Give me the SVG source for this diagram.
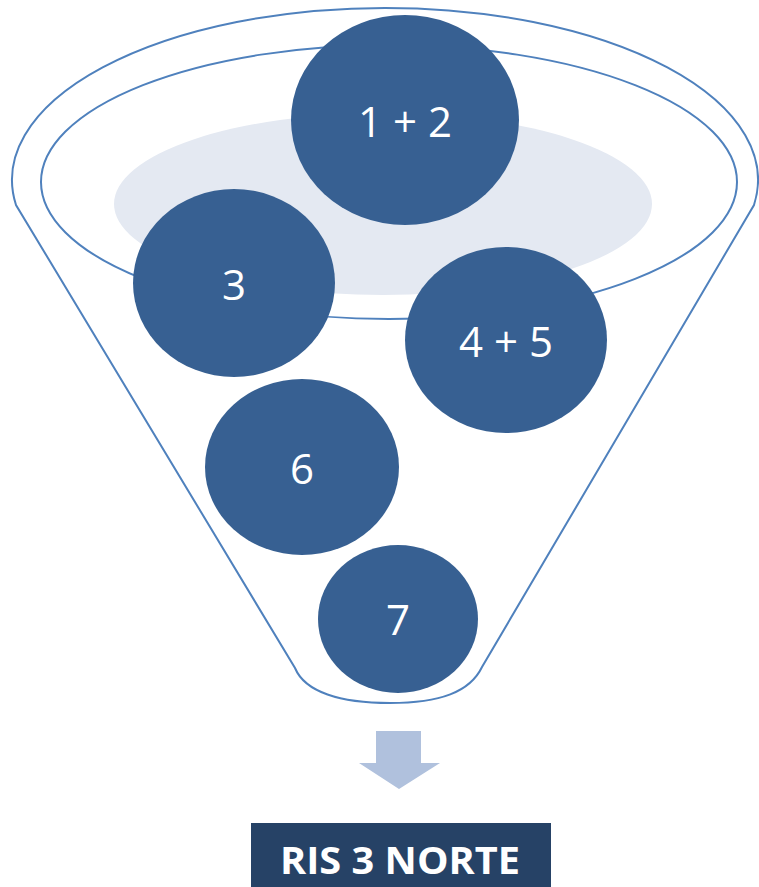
<svg xmlns="http://www.w3.org/2000/svg" width="759" height="887" viewBox="0 0 759 887">
<style>
.ln{fill:none;stroke:#4f81bd;stroke-width:2}
.ball{fill:#376092}
.lbl{font-family:"Open Sans",sans-serif;font-size:42px;fill:#ffffff;text-anchor:middle}
</style>
<rect width="759" height="887" fill="#ffffff"/>
<g id="funnel">
<path class="ln" fill="#ffffff" d="M16,205 A373,172 0 1 1 754,205 L482,667 C470,692 440,703 390,703 C340,703 305,692 295,668 Z" style="fill:#ffffff"/>
<ellipse class="ln" cx="389" cy="182" rx="348" ry="137"/>
<ellipse cx="383" cy="204" rx="269" ry="91" fill="#e4e9f2"/>
</g>
<g id="n12"><ellipse class="ball" cx="405" cy="120" rx="114" ry="105"/><text class="lbl" x="405" y="137">1 + 2</text></g>
<g id="n3"><ellipse class="ball" cx="234" cy="283" rx="101" ry="94"/><text class="lbl" x="234" y="300">3</text></g>
<g id="n45"><ellipse class="ball" cx="506" cy="340" rx="101" ry="93"/><text class="lbl" x="506" y="357">4 + 5</text></g>
<g id="n6"><ellipse class="ball" cx="302" cy="467" rx="97" ry="88"/><text class="lbl" x="302" y="484">6</text></g>
<g id="n7"><ellipse class="ball" cx="398" cy="619" rx="80" ry="74"/><text class="lbl" x="398" y="635">7</text></g>
<g id="connectors">
<path d="M376,731 H421 V763 H440 L399,789 L359,763 H376 Z" fill="#b0c1dd"/>
</g>
<g id="result">
<rect x="251" y="823" width="300" height="64" fill="#264266"/>
<text x="400" y="874" font-family="'Open Sans',sans-serif" font-weight="bold" font-size="37" fill="#ffffff" text-anchor="middle" textLength="240" lengthAdjust="spacingAndGlyphs">RIS 3 NORTE</text>
</g>
</svg>
